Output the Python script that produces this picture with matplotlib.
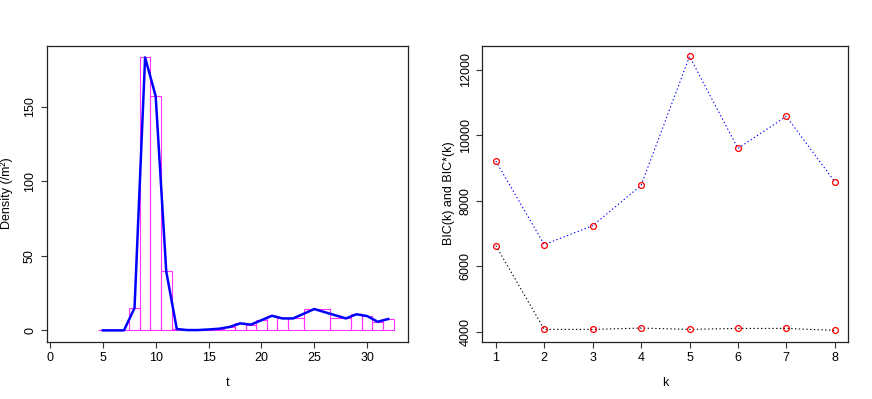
import numpy as np
import matplotlib as mpl
mpl.use('Agg')
import matplotlib.pyplot as plt

mpl.rcParams['font.family'] = ['Liberation Sans', 'DejaVu Sans']
mpl.rcParams['font.size'] = 9

# left panel: density by sampling time
t = [5, 6, 7, 8, 9, 10, 11, 12, 13, 14, 15, 16, 17, 18, 19, 20, 21, 22, 23,
     25, 28, 29, 30, 31, 32]
density = [0, 0, 0, 15, 183, 157, 39.5, 0.9, 0.2, 0.2, 0.6, 1.1, 2.3, 4.7, 3.8,
           6.8, 9.8, 8.0, 8.0, 14.3, 8.0, 10.8, 9.6, 5.8, 7.6]

# right panel: BIC values
k = [1, 2, 3, 4, 5, 6, 7, 8]
bic = [6630, 4070, 4070, 4110, 4070, 4100, 4100, 4040]
bic_star = [9210, 6660, 7240, 8470, 12410, 9600, 10580, 8580]

W, H = 872, 399
fig = plt.figure(figsize=(W / 100, H / 100), dpi=100, facecolor='w')

def frame(x0, x1, y0, y1):
    return [x0 / W, 1 - y1 / H, (x1 - x0) / W, (y1 - y0) / H]

ax1 = fig.add_axes(frame(46.7, 408.3, 45.5, 341.7))
ax2 = fig.add_axes(frame(482.3, 848.3, 45.5, 341.7))

# histogram-like bars with edges half way between sampling times
tt = np.array(t, dtype=float)
edges = np.concatenate([[tt[0] - 0.5], (tt[:-1] + tt[1:]) / 2, [tt[-1] + 0.5]])
ax1.bar(edges[:-1], density, width=np.diff(edges), align='edge', fill=False,
        edgecolor='#FF33FF', linewidth=0.8, zorder=2)
ax1.plot(t, density, '-', color='#0000FF', linewidth=1.8, zorder=3)
ax1.set_xlim(-0.31, 33.9)
ax1.set_ylim(-7.6, 191)
ax1.set_xticks([0, 5, 10, 15, 20, 25, 30])
ax1.set_yticks([0, 50, 100, 150])
ax1.set_xlabel('t')
ax1.set_ylabel('Density (/m²)')

ax2.plot(k, bic_star, color='#0000FF', linestyle=(0, (1.2, 2.2)), linewidth=0.8)
ax2.plot(k, bic, color='black', linestyle=(0, (1.2, 2.2)), linewidth=0.8)
ax2.plot(k, bic_star, 'o', mfc='none', mec='#FF0000', ms=4.2, mew=0.9)
ax2.plot(k, bic, 'o', mfc='none', mec='#FF0000', ms=4.2, mew=0.9)
ax2.set_xlim(0.72, 8.28)
ax2.set_ylim(3694, 12744)
ax2.set_xticks(k)
ax2.set_yticks([4000, 6000, 8000, 10000, 12000])
ax2.set_xlabel('k')
ax2.set_ylabel('BIC(k) and BIC*(k)')

for ax in (ax1, ax2):
    for s in ax.spines.values():
        s.set_linewidth(0.9)
        s.set_color('#222222')
    ax.tick_params(direction='out', length=4.3, width=0.8, pad=3.4, color='#333333')
    ax.tick_params(axis='y', labelrotation=90)
    for lab in ax.get_yticklabels():
        lab.set_va('center')
    ax.xaxis.set_label_coords(0.5, -0.118)

ax1.yaxis.set_label_coords(-0.092, 0.5)
ax2.yaxis.set_label_coords(-0.075, 0.5)

fig.savefig('out.png', dpi=100)
